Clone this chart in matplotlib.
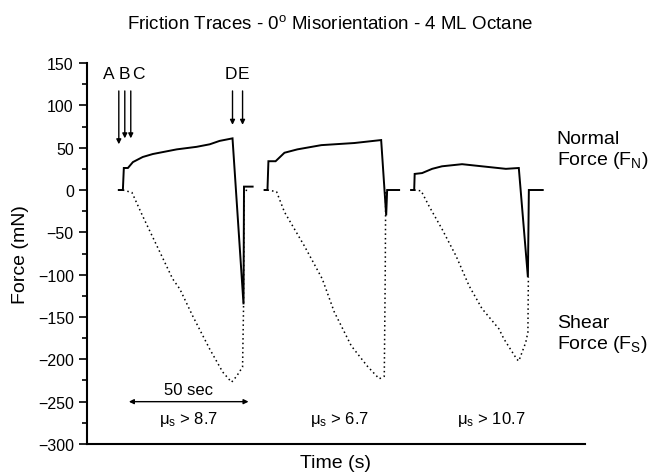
import matplotlib
matplotlib.use("Agg")
import matplotlib.pyplot as plt
from matplotlib.ticker import MultipleLocator

plt.rcParams['font.family'] = ['Liberation Sans', 'DejaVu Sans']
plt.rcParams['mathtext.fontset'] = 'custom'
plt.rcParams['mathtext.rm'] = 'Liberation Sans'
plt.rcParams['mathtext.it'] = 'Liberation Sans:italic'

# --- traces (time in s, force in mN) ---
# cycle 1
t_n1 = [13.3, 15.0, 15.4, 17.1, 19.2, 23.3, 27.5, 37.5, 45.8, 51.3, 55.4, 60.8, 65.4, 65.6, 69.2]
f_n1 = [0, 0, 26, 26, 33, 39, 42.5, 48, 51, 54, 58, 61, -135, 4, 4]
t_s1 = [15.0, 18.8, 23.3, 30.4, 35.8, 38.8, 44.2, 51.3, 56.7, 60.4, 62.5, 65.0, 65.4, 65.6, 68.0]
f_s1 = [0, -3, -31, -73, -105, -117, -149, -188, -215, -227, -220, -209, -140, 0, -1]

# cycle 2
t_n2 = [74.2, 75.4, 75.8, 78.8, 82.5, 87.9, 97.9, 111.7, 122.9, 125.0, 125.4, 130.4]
f_n2 = [0, 0, 34, 34, 44, 48, 53, 55.5, 59, -30, 0, 0]
t_s2 = [75.4, 79.2, 82.5, 90.8, 98.3, 103.3, 110.4, 117.1, 122.1, 124.2, 124.6, 124.8]
f_s2 = [0, -2, -26, -66, -105, -144, -184, -208, -223, -220, -100, 0]

# cycle 3
t_n3 = [135.4, 136.7, 136.9, 140.0, 144.2, 148.3, 156.7, 165.0, 175.0, 180.4, 184.2, 184.6, 190.4]
f_n3 = [0, 0, 19, 20, 25, 28, 30.5, 28, 25, 26, -103, 0, 0]
t_s3 = [136.7, 139.6, 142.9, 148.3, 154.2, 159.6, 165.0, 172.1, 174.2, 179.6, 180.4, 183.3, 184.2, 184.4]
f_s3 = [0, -1, -19, -46, -78, -113, -140, -164, -176, -200, -202, -180, -168, -103]

# event arrows A-E
event_labels = ['A', 'B', 'C', 'D', 'E']
event_label_x = [9.2, 15.8, 21.6, 60.0, 65.4]
event_x = [13.3, 15.8, 18.3, 60.8, 65.0]
event_tip = [54, 61, 61, 77, 77]

mu_labels = ['μ$_\\mathrm{s}$ > 8.7', 'μ$_\\mathrm{s}$ > 6.7', 'μ$_\\mathrm{s}$ > 10.7']
mu_x = [42.5, 105.4, 168.8]

fig = plt.figure(figsize=(6.5, 4.77), dpi=100)
ax = fig.add_axes([0.1338, 0.0671, 0.766, 0.7987])

for t, f in [(t_n1, f_n1), (t_n2, f_n2), (t_n3, f_n3)]:
    ax.plot(t, f, color='black', lw=1.4, solid_joinstyle='miter')
for t, f in [(t_s1, f_s1), (t_s2, f_s2), (t_s3, f_s3)]:
    ax.plot(t, f, color='black', lw=1.1, ls=(0, (1, 2)))

ax.set_xlim(0, 208)
ax.set_ylim(-300, 150)
ax.set_xticks([])
ax.yaxis.set_major_locator(MultipleLocator(50))
ax.yaxis.set_minor_locator(MultipleLocator(25))
ax.tick_params(axis='y', which='major', length=6, width=1.2, labelsize=11.5, direction='out')
ax.tick_params(axis='y', which='minor', length=3.5, width=1.2, direction='out')
for side in ['top', 'right']:
    ax.spines[side].set_visible(False)
for side in ['left', 'bottom']:
    ax.spines[side].set_linewidth(1.5)

ax.set_ylabel('Force (mN)', fontsize=14, labelpad=6)
ax.set_xlabel('Time (s)', fontsize=14, labelpad=7)

# event arrows
for lab, lx in zip(event_labels, event_label_x):
    ax.text(lx, 138, lab, ha='center', va='center', fontsize=12.5)
for x, tip in zip(event_x, event_tip):
    ax.annotate('', xy=(x, tip), xytext=(x, 117),
                arrowprops=dict(arrowstyle='-|>', color='black', lw=1.0,
                                mutation_scale=7, shrinkA=0, shrinkB=0))

# 50 s scale bar
ax.annotate('', xy=(17.5, -250), xytext=(67.5, -250),
            arrowprops=dict(arrowstyle='<|-|>', color='black', lw=1.0,
                            mutation_scale=7, shrinkA=0, shrinkB=0))
ax.text(42.5, -236, '50 sec', ha='center', va='center', fontsize=12)

for lab, x in zip(mu_labels, mu_x):
    ax.text(x, -270, lab, ha='center', va='center', fontsize=12)

ax.text(196.3, 47, 'Normal\nForce (F$_\\mathrm{N}$)', ha='left', va='center',
        fontsize=14, linespacing=1.15, clip_on=False)
ax.text(196.3, -170, 'Shear\nForce (F$_\\mathrm{S}$)', ha='left', va='center',
        fontsize=14, linespacing=1.15, clip_on=False)

fig.text(330 / 650, 1 - 29 / 477, 'Friction Traces - 0$^\\mathrm{o}$ Misorientation - 4 ML Octane',
         ha='center', va='baseline', fontsize=13.5)

fig.savefig('out.png', dpi=100)
